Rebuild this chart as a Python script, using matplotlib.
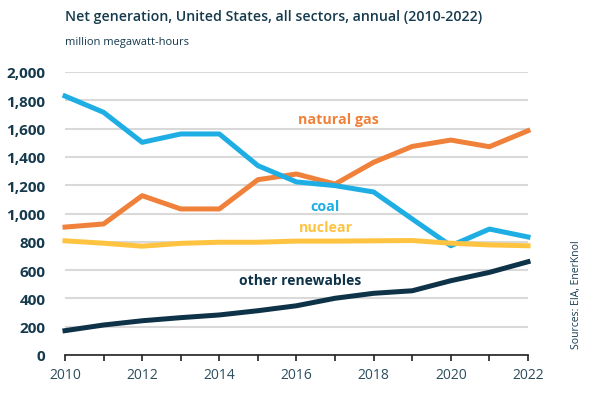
import matplotlib
matplotlib.use("Agg")
from matplotlib import pyplot as plt

plt.rcParams['font.family'] = ['Open Sans', 'DejaVu Sans']

years = list(range(2010, 2023))
coal = [1830, 1715, 1503, 1562, 1562, 1338, 1223, 1197, 1152, 961, 772, 890, 834]
natural_gas = [904, 926, 1126, 1032, 1032, 1239, 1279, 1208, 1362, 1474, 1519, 1472, 1585]
nuclear = [807, 790, 769, 789, 797, 797, 805, 805, 807, 809, 790, 778, 772]
other_renewables = [172, 212, 242, 264, 283, 313, 348, 401, 436, 454, 525, 584, 659]

navy = '#163a4d'
c_coal = '#1eaee4'
c_gas = '#f0813a'
c_nuc = '#fec340'
c_ren = '#0e3349'

fig = plt.figure(figsize=(5.92, 4.02), dpi=100)
ax = fig.add_axes([65/592, 1-356/402, (528-65)/592, (356-73)/402])

lw = 3.6
ax.plot(years, other_renewables, color=c_ren, lw=lw, clip_on=False, zorder=3)
ax.plot(years, natural_gas, color=c_gas, lw=lw, clip_on=False, zorder=3)
ax.plot(years, coal, color=c_coal, lw=lw, clip_on=False, zorder=4)
ax.plot(years, nuclear, color=c_nuc, lw=lw, clip_on=False, zorder=5)

ax.set_xlim(2010, 2022)
ax.set_ylim(0, 2000)
ax.set_yticks(range(0, 2001, 200))
ax.set_yticklabels([f"{v:,}" for v in range(0, 2001, 200)],
                   fontsize=11, fontweight='bold', color=navy)
ax.set_xticks(years)
ax.set_xticklabels([str(y) if y % 2 == 0 else '' for y in years],
                   fontsize=10, color='#2b4d5e')
ax.tick_params(axis='y', length=0, pad=14)
ax.tick_params(axis='x', length=4, width=1.2, color='#222222', pad=5, direction='out')
ax.grid(axis='y', color='#d9d9d9', lw=1.5)
ax.set_axisbelow(True)
for s in ['top', 'right', 'left']:
    ax.spines[s].set_visible(False)
ax.spines['bottom'].set_color('#222222')
ax.spines['bottom'].set_linewidth(1.2)

ax.text(2016.05, 1670, 'natural gas', color=c_gas, fontsize=10.3, fontweight='bold',
        ha='left', va='center')
ax.text(2016.35, 1050, 'coal', color=c_coal, fontsize=10.3, fontweight='bold',
        ha='left', va='center')
ax.text(2016.05, 905, 'nuclear', color=c_nuc, fontsize=10.3, fontweight='bold',
        ha='left', va='center')
ax.text(2014.5, 530, 'other renewables', color=c_ren, fontsize=10, fontweight='bold',
        ha='left', va='center')

fig.text(65/592, 1-17/402, 'Net generation, United States, all sectors, annual (2010-2022)',
         fontsize=10.2, fontweight='semibold', color=navy, ha='left', va='center')
fig.text(65/592, 1-43/402, 'million megawatt-hours', fontsize=8, color=navy,
         ha='left', va='center')
fig.text(576/592, 1-295/402, 'Sources: EIA, EnerKnol', fontsize=7.5, color=navy,
         rotation=90, ha='center', va='center')

fig.savefig('out.png', dpi=100)
